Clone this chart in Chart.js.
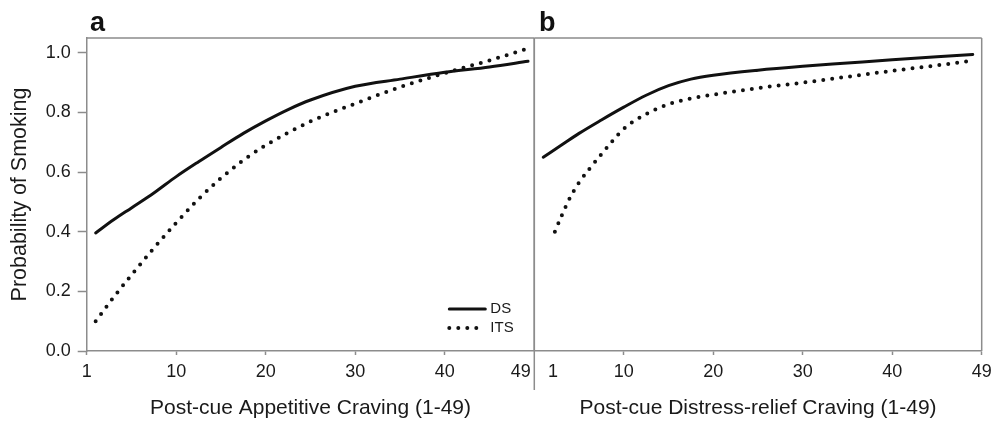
<!DOCTYPE html>
<html>
<head>
<meta charset="utf-8">
<script src="https://cdn.jsdelivr.net/npm/chart.js@4.4.0/dist/chart.umd.min.js"></script>
<style>
  html, body { margin: 0; padding: 0; background: #fff; overflow: hidden; }
  #wrap { position: relative; width: 992px; height: 425px; overflow: hidden; font-family: "Liberation Sans", Arial, sans-serif; }
  canvas { position: absolute; top: 0; }
  #chart-a { left: 0; }
  #chart-b { left: 520px; }
  .panel-tag { position: absolute; top: 9px; font-weight: bold; font-size: 27px; line-height: 1; color: #111; }
</style>
</head>
<body>
<div id="wrap">
  <canvas id="chart-a" width="540" height="425"></canvas>
  <canvas id="chart-b" width="500" height="425"></canvas>
  <div class="panel-tag" style="left:90px">a</div>
  <div class="panel-tag" style="left:539px">b</div>
</div>
<script>
// Data
const seriesNames = ["DS", "ITS"]
const xTickLabels = ["1", "10", "20", "30", "40", "49"]
const yTickValues = [0, 0.2, 0.4, 0.6, 0.8, 1.0]
const yTickLabels = ["0.0", "0.2", "0.4", "0.6", "0.8", "1.0"]
const xTitleA = "Post-cue Appetitive Craving (1-49)"
const xTitleB = "Post-cue Distress-relief Craving (1-49)"
const yTitle = "Probability of Smoking"

// panel a
const aDsX = [1, 3, 5, 7.5, 10, 12.5, 15, 17.5, 20, 22.5, 25, 30, 35, 40, 45, 49.3]
const aDsY = [0.396, 0.44, 0.48, 0.53, 0.585, 0.635, 0.683, 0.73, 0.772, 0.81, 0.842, 0.888, 0.912, 0.935, 0.953, 0.972]
const aItsX = [1, 3, 5, 7.5, 10, 12.5, 15, 17.5, 20, 25, 30, 35, 40, 45, 49]
const aItsY = [0.1, 0.18, 0.255, 0.345, 0.43, 0.51, 0.58, 0.64, 0.69, 0.77, 0.83, 0.885, 0.932, 0.975, 1.012]

// panel b
const bDsX = [1, 3, 5, 7.5, 10, 12.5, 15, 17.5, 20, 25, 30, 35, 40, 45, 49]
const bDsY = [0.65, 0.69, 0.73, 0.775, 0.818, 0.858, 0.89, 0.912, 0.925, 0.942, 0.955, 0.966, 0.977, 0.987, 0.995]
const bItsX = [2.3, 3, 4, 5, 6, 7.5, 10, 12.5, 15, 17.5, 20, 25, 30, 35, 40, 45, 49]
const bItsY = [0.4, 0.45, 0.515, 0.565, 0.605, 0.66, 0.745, 0.795, 0.828, 0.847, 0.86, 0.882, 0.9, 0.92, 0.94, 0.958, 0.974]

const axisColor = "#8c8c8c"
const textColor = "#1a1a1a"
const fontFamily = "'Liberation Sans', Arial, sans-serif"

Chart.defaults.font.family = fontFamily
Chart.defaults.color = textColor

const toPoints = (xs, ys) => xs.map((x, i) => ({ x: x, y: ys[i] }))

function makeDatasets(dsX, dsY, itsX, itsY) {
  return [
    {
      label: seriesNames[0],
      data: toPoints(dsX, dsY),
      borderColor: "#111",
      borderWidth: 3,
      borderCapStyle: "round",
      pointRadius: 0,
      cubicInterpolationMode: "monotone",
    },
    {
      label: seriesNames[1],
      data: toPoints(itsX, itsY),
      borderColor: "#111",
      borderWidth: 4,
      borderDash: [0, 9],
      borderCapStyle: "round",
      pointRadius: 0,
      cubicInterpolationMode: "monotone",
    },
  ]
}

// box lines round the plot (top, right, optional left)
const framePlugin = {
  id: "frame",
  beforeDatasetsDraw(chart, args, opts) {
    const { ctx, chartArea } = chart
    const { left, right, top, bottom } = chartArea
    ctx.save()
    ctx.strokeStyle = axisColor
    ctx.lineWidth = 1.5
    ctx.beginPath()
    ctx.moveTo(left, top)
    ctx.lineTo(right, top)
    ctx.moveTo(right, top)
    ctx.lineTo(right, bottom + (opts.rightDrop || 0))
    if (opts.leftEdge) {
      ctx.moveTo(left, top)
      ctx.lineTo(left, bottom)
    }
    ctx.stroke()
    ctx.restore()
  },
}

// small legend in the lower right corner of the plot
const cornerLegend = {
  id: "cornerLegend",
  afterDatasetsDraw(chart, args, opts) {
    if (!opts.show) return
    const { ctx, chartArea } = chart
    chart.data.datasets.forEach((ds, i) => {
      const y = chartArea.bottom - opts.bottom + i * opts.rowGap
      const x1 = chartArea.right - opts.right
      ctx.save()
      ctx.strokeStyle = ds.borderColor
      ctx.lineWidth = ds.borderWidth
      ctx.lineCap = ds.borderCapStyle || "butt"
      ctx.setLineDash(ds.borderDash || [])
      ctx.beginPath()
      ctx.moveTo(x1, y)
      ctx.lineTo(x1 + opts.sample, y)
      ctx.stroke()
      ctx.setLineDash([])
      ctx.fillStyle = textColor
      ctx.font = "15px " + fontFamily
      ctx.textBaseline = "middle"
      ctx.fillText(ds.label, x1 + opts.sample + 5, y)
      ctx.restore()
    })
  },
}

function xScale(title, tickPos, hiddenMark) {
  return {
    type: "linear",
    min: 0,
    max: 50,
    afterBuildTicks: (axis) => {
      axis.ticks = tickPos.map((v) => ({ value: v }))
    },
    afterFit: (axis) => {
      axis.height = 74
    },
    ticks: {
      autoSkip: false,
      maxRotation: 0,
      minRotation: 0,
      padding: 6,
      font: { size: 18 },
      color: textColor,
      callback: (value, index) => xTickLabels[index],
    },
    grid: {
      drawOnChartArea: false,
      drawTicks: true,
      tickLength: 4,
      tickWidth: 1.5,
      tickColor: (ctx) => (ctx.index === hiddenMark ? "rgba(0,0,0,0)" : axisColor),
    },
    border: { color: axisColor, width: 1.5 },
    title: {
      display: true,
      text: title,
      font: { size: 21 },
      color: textColor,
      padding: { top: 0, bottom: 4 },
    },
  }
}

function yScale(show) {
  const scale = {
    type: "linear",
    min: 0,
    max: 1.05,
    display: show,
    afterBuildTicks: (axis) => {
      axis.ticks = yTickValues.map((v) => ({ value: v }))
    },
    ticks: {
      padding: 7,
      font: { size: 18 },
      color: textColor,
      callback: (value, index) => yTickLabels[index],
    },
    grid: {
      drawOnChartArea: false,
      drawTicks: true,
      tickLength: 9,
      tickWidth: 1.5,
      tickColor: axisColor,
    },
    border: { color: axisColor, width: 1.5 },
    title: {
      display: true,
      text: yTitle,
      font: { size: 21.5 },
      color: textColor,
      padding: { top: 7, bottom: 0 },
    },
  }
  if (show) {
    scale.afterFit = (axis) => {
      axis.width = 86.7
    }
  }
  return scale
}

function baseOptions(padding) {
  return {
    responsive: false,
    animation: false,
    devicePixelRatio: 1,
    events: [],
    layout: { padding: padding },
    plugins: {
      legend: { display: false },
      tooltip: { enabled: false },
    },
  }
}

// Panel a
const optsA = baseOptions({ top: 38, left: 0, right: 5.7, bottom: 0 })
optsA.scales = { x: xScale(xTitleA, [0, 10, 20, 30, 40, 48.5], 5), y: yScale(true) }
optsA.plugins.frame = { rightDrop: 39, leftEdge: false }
optsA.plugins.cornerLegend = { show: true, right: 85, bottom: 42, rowGap: 19, sample: 36 }

new Chart(document.getElementById("chart-a"), {
  type: "line",
  data: { datasets: makeDatasets(aDsX, aDsY, aItsX, aItsY) },
  options: optsA,
  plugins: [framePlugin, cornerLegend],
})

// Panel b
const optsB = baseOptions({ top: 38, left: 14.3, right: 38.3, bottom: 0 })
optsB.scales = { x: xScale(xTitleB, [2.1, 10, 20, 30, 40, 50], 0), y: yScale(false) }
optsB.plugins.frame = { rightDrop: 0, leftEdge: true }
optsB.plugins.cornerLegend = { show: false }

new Chart(document.getElementById("chart-b"), {
  type: "line",
  data: { datasets: makeDatasets(bDsX, bDsY, bItsX, bItsY) },
  options: optsB,
  plugins: [framePlugin, cornerLegend],
})
</script>
</body>
</html>
